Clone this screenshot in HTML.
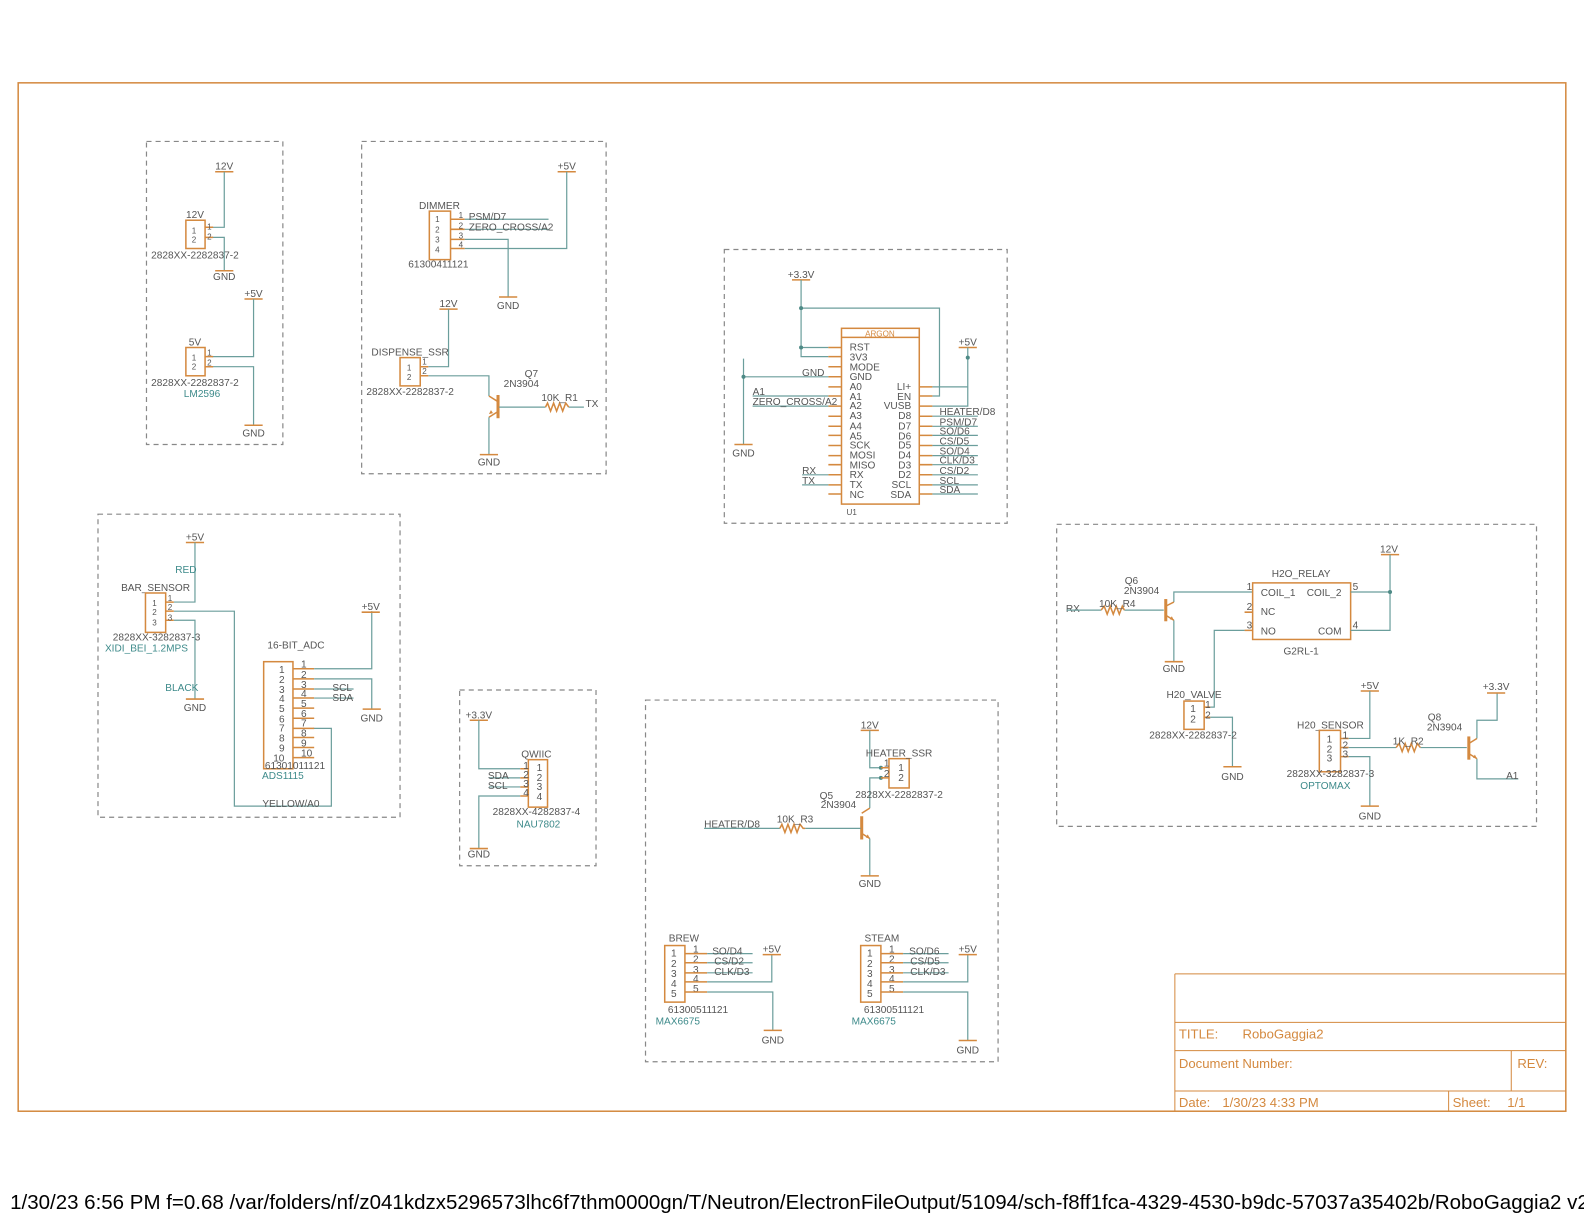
<!DOCTYPE html>
<html><head><meta charset="utf-8"><style>
body{margin:0;background:#fff;}
svg{display:block;font-family:"Liberation Sans",sans-serif;}
.o{stroke:#d4893f;fill:none;stroke-width:1.5}
.w{stroke:#6b9e9c;fill:none;stroke-width:1.2}
.d{stroke:#888;fill:none;stroke-width:1.2;stroke-dasharray:5,4}
text{fill:#555;font-size:10px}
.t{fill:#3d8a8a}
.p{font-size:8px}
.c{text-anchor:middle}
.r{text-anchor:end}
.ot{fill:#d4893f}
.dot{fill:#4e8a86}
</style></head><body>
<svg width="1584" height="1224" viewBox="0 0 1584 1224">
<g transform="scale(1.0102)">
<rect x="18" y="82" width="1532" height="1018" class="o"/>

<!-- Block 1 -->
<rect x="145" y="140" width="135" height="300" class="d"/>
<text x="222" y="168" class="c">12V</text><line x1="213" y1="170" x2="231" y2="170" class="o"/>
<path d="M222 170V225H210M210 235H222V268" class="w"/>
<line x1="213" y1="268" x2="231" y2="268" class="o"/><text x="222" y="277" class="c">GND</text>
<rect x="184" y="218" width="19" height="28" class="o"/>
<text x="193" y="216" class="c">12V</text><text x="192" y="231" class="c p">1</text><text x="192" y="240" class="c p">2</text>
<path d="M203 225H211M203 235H211" class="o"/><text x="205" y="227" class="p">1</text><text x="205" y="237" class="p">2</text>
<text x="193" y="256" class="c">2828XX-2282837-2</text>
<text x="251" y="294" class="c">+5V</text><line x1="242" y1="296" x2="260" y2="296" class="o"/>
<path d="M251 296V353H210M210 363H251V421" class="w"/>
<line x1="242" y1="421" x2="260" y2="421" class="o"/><text x="251" y="432" class="c">GND</text>
<rect x="184" y="344" width="19" height="28" class="o"/>
<text x="193" y="342" class="c">5V</text><text x="192" y="357" class="c p">1</text><text x="192" y="366" class="c p">2</text>
<path d="M203 353H211M203 363H211" class="o"/><text x="205" y="352" class="p">1</text><text x="205" y="362" class="p">2</text>
<text x="193" y="382" class="c">2828XX-2282837-2</text><text x="200" y="393" class="c t">LM2596</text>

<!-- Block 2 -->
<rect x="358" y="140" width="242" height="329" class="d"/>
<text x="561" y="168" class="c">+5V</text><line x1="552" y1="170" x2="570" y2="170" class="o"/>
<path d="M561 170V246H460" class="w"/>
<text x="435" y="207" class="c">DIMMER</text>
<rect x="425" y="209" width="21" height="48" class="o"/>
<text x="433" y="220" class="c p">1</text><text x="433" y="230" class="c p">2</text><text x="433" y="240" class="c p">3</text><text x="433" y="250" class="c p">4</text>
<path d="M446 217H460M446 227H460M446 237H460M446 246H460" class="o"/>
<text x="454" y="216" class="p">1</text><text x="454" y="226" class="p">2</text><text x="454" y="236" class="p">3</text><text x="454" y="245" class="p">4</text>
<path d="M460 217H543M460 227H543M460 237H503V294" class="w"/>
<text x="464" y="218">PSM/D7</text><text x="464" y="228">ZERO_CROSS/A2</text>
<line x1="494" y1="294" x2="512" y2="294" class="o"/><text x="503" y="306" class="c">GND</text>
<text x="434" y="265" class="c">61300411121</text>
<text x="444" y="304" class="c">12V</text><line x1="435" y1="306" x2="453" y2="306" class="o"/>
<path d="M444 306V363H424M424 372H484V392" class="w"/>
<text x="406" y="352" class="c">DISPENSE_SSR</text>
<rect x="396" y="354" width="20" height="28" class="o"/>
<text x="405" y="367" class="c p">1</text><text x="405" y="376" class="c p">2</text>
<path d="M416 363H424M416 372H424" class="o"/><text x="418" y="361" class="p">1</text><text x="418" y="370" class="p">2</text>
<text x="406" y="391" class="c">2828XX-2282837-2</text>
<path d="M484 392L492 397M492 408L484 413" class="o"/><line x1="493" y1="391" x2="493" y2="414" class="o" style="stroke-width:3"/>
<path d="M484 410l4 -1l-2 -3z" fill="#d4893f"/>
<path d="M484 413V450M494 403H540M563 403H578" class="w"/>
<polyline points="540,403 542,399 545,407 548,399 551,407 554,399 557,407 560,399 563,403" class="o"/>
<line x1="475" y1="450" x2="493" y2="450" class="o"/><text x="484" y="461" class="c">GND</text>
<text x="526" y="373" class="c">Q7</text><text x="516" y="383" class="c">2N3904</text>
<text x="554" y="397" class="c">10K_R1</text><text x="586" y="403" class="c">TX</text>

<!-- ARGON -->
<rect x="717" y="247" width="280" height="271" class="d"/>
<text x="793" y="275" class="c">+3.3V</text><line x1="784" y1="277" x2="802" y2="277" class="o"/>
<path d="M793 277V353H820M793 305H930V392H923M793 344H820" class="w"/>
<circle cx="793" cy="305" r="2" class="dot"/><circle cx="793" cy="344" r="2" class="dot"/>
<rect x="833" y="325" width="77" height="174" class="o"/><line x1="833" y1="334" x2="910" y2="334" class="o"/>
<text x="871" y="333" class="c ot p">ARGON</text>
<g class="p">
<text x="841" y="347">RST</text><text x="841" y="357">3V3</text><text x="841" y="367">MODE</text><text x="841" y="376">GND</text><text x="841" y="386">A0</text><text x="841" y="396">A1</text><text x="841" y="405">A2</text><text x="841" y="415">A3</text><text x="841" y="425">A4</text><text x="841" y="435">A5</text><text x="841" y="444">SCK</text><text x="841" y="454">MOSI</text><text x="841" y="464">MISO</text><text x="841" y="473">RX</text><text x="841" y="483">TX</text><text x="841" y="493">NC</text>
<text x="902" y="386" class="r">LI+</text><text x="902" y="396" class="r">EN</text><text x="902" y="405" class="r">VUSB</text><text x="902" y="415" class="r">D8</text><text x="902" y="425" class="r">D7</text><text x="902" y="435" class="r">D6</text><text x="902" y="444" class="r">D5</text><text x="902" y="454" class="r">D4</text><text x="902" y="464" class="r">D3</text><text x="902" y="473" class="r">D2</text><text x="902" y="483" class="r">SCL</text><text x="902" y="493" class="r">SDA</text>
</g>
<path d="M820 344H833M820 353H833M820 363H833M820 373H833M820 383H833M820 392H833M820 402H833M820 412H833M820 422H833M820 431H833M820 441H833M820 451H833M820 460H833M820 470H833M820 480H833M820 489H833M910 383H923M910 392H923M910 402H923M910 412H923M910 422H923M910 431H923M910 441H923M910 451H923M910 460H923M910 470H923M910 480H923M910 489H923" class="o"/>
<text x="958" y="342" class="c">+5V</text><line x1="949" y1="344" x2="967" y2="344" class="o"/>
<path d="M958 344V402H923M958 383H923" class="w"/><circle cx="958" cy="354" r="2" class="dot"/>
<path d="M736 355V440M736 373H820M745 392H820M745 402H820M794 470H820M794 480H820" class="w"/>
<circle cx="736" cy="373" r="2" class="dot"/>
<line x1="727" y1="440" x2="745" y2="440" class="o"/><text x="736" y="452" class="c">GND</text>
<text x="805" y="372" class="c">GND</text><text x="745" y="391">A1</text><text x="745" y="401">ZERO_CROSS/A2</text>
<text x="794" y="469">RX</text><text x="794" y="479">TX</text>
<path d="M923 412H968M923 422H968M923 431H968M923 441H968M923 451H968M923 460H968M923 470H968M923 480H968M923 489H968" class="w"/>
<text x="930" y="411">HEATER/D8</text><text x="930" y="421">PSM/D7</text><text x="930" y="430">SO/D6</text><text x="930" y="440">CS/D5</text><text x="930" y="450">SO/D4</text><text x="930" y="459">CLK/D3</text><text x="930" y="469">CS/D2</text><text x="930" y="479">SCL</text><text x="930" y="488">SDA</text>
<text x="838" y="510" class="p">U1</text>

<!-- BAR block -->
<rect x="97" y="509" width="299" height="300" class="d"/>
<text x="193" y="535" class="c">+5V</text><line x1="184" y1="537" x2="202" y2="537" class="o"/>
<path d="M193 537V596H172M172 605H232V798H328V721H310M172 614H193V692" class="w"/>
<line x1="184" y1="692" x2="202" y2="692" class="o"/><text x="193" y="704" class="c">GND</text>
<text x="184" y="567" class="c t">RED</text><text x="180" y="684" class="c t">BLACK</text>
<text x="154" y="585" class="c">BAR_SENSOR</text>
<rect x="144" y="587" width="20" height="39" class="o"/>
<text x="153" y="600" class="c p">1</text><text x="153" y="609" class="c p">2</text><text x="153" y="619" class="c p">3</text>
<path d="M164 596H172M164 605H172M164 614H172" class="o"/>
<text x="166" y="595" class="p">1</text><text x="166" y="604" class="p">2</text><text x="166" y="614" class="p">3</text>
<text x="155" y="634" class="c">2828XX-3282837-3</text><text x="145" y="645" class="c t">XIDI_BEI_1.2MPS</text>
<text x="293" y="642" class="c">16-BIT_ADC</text>
<rect x="261" y="655" width="29" height="106" class="o"/>
<g class="p">
<text x="279" y="666" class="c">1</text><text x="279" y="676" class="c">2</text><text x="279" y="686" class="c">3</text><text x="279" y="695" class="c">4</text><text x="279" y="705" class="c">5</text><text x="279" y="715" class="c">6</text><text x="279" y="724" class="c">7</text><text x="279" y="734" class="c">8</text><text x="279" y="744" class="c">9</text><text x="276" y="754" class="c">10</text>
<text x="298" y="661">1</text><text x="298" y="671">2</text><text x="298" y="681">3</text><text x="298" y="690">4</text><text x="298" y="700">5</text><text x="298" y="710">6</text><text x="298" y="719">7</text><text x="298" y="729">8</text><text x="298" y="739">9</text><text x="298" y="749">10</text>
</g>
<path d="M290 662H311M290 672H311M290 682H311M290 691H311M290 701H311M290 711H311M290 721H311M290 730H311M290 740H311M290 750H311" class="o"/>
<path d="M311 662H368V605M311 672H368V702M311 682H350M311 691H350" class="w"/>
<text x="367" y="604" class="c">+5V</text><line x1="358" y1="606" x2="376" y2="606" class="o"/>
<line x1="359" y1="702" x2="377" y2="702" class="o"/><text x="368" y="714" class="c">GND</text>
<text x="329" y="684">SCL</text><text x="329" y="694">SDA</text>
<text x="292" y="761" class="c">61301011121</text><text x="280" y="771" class="c t">ADS1115</text>
<text x="288" y="799" class="c">YELLOW/A0</text>

<!-- QWIIC -->
<rect x="455" y="683" width="135" height="174" class="d"/>
<text x="474" y="711" class="c">+3.3V</text><line x1="465" y1="713" x2="483" y2="713" class="o"/>
<path d="M474 713V761H515M484 770H515M484 779H515M515 788H474V840" class="w"/>
<line x1="465" y1="840" x2="483" y2="840" class="o"/><text x="474" y="849" class="c">GND</text>
<text x="483" y="771">SDA</text><text x="483" y="781">SCL</text>
<text x="531" y="750" class="c">QWIIC</text>
<rect x="523" y="752" width="19" height="47" class="o"/>
<path d="M515 761H523M515 770H523M515 779H523M515 788H523" class="o"/>
<g class="p"><text x="518" y="761">1</text><text x="518" y="770">2</text><text x="518" y="779">3</text><text x="518" y="788">4</text>
<text x="534" y="763" class="c">1</text><text x="534" y="773" class="c">2</text><text x="534" y="782" class="c">3</text><text x="534" y="792" class="c">4</text></g>
<text x="531" y="807" class="c">2828XX-4282837-4</text><text x="533" y="819" class="c t">NAU7802</text>

<!-- HEATER block -->
<rect x="639" y="693" width="349" height="358" class="d"/>
<text x="861" y="721" class="c">12V</text><line x1="852" y1="723" x2="870" y2="723" class="o"/>
<path d="M861 723V760H875M875 770H861V800" class="w"/>
<circle cx="872" cy="760" r="2" class="dot"/><circle cx="872" cy="770" r="2" class="dot"/>
<rect x="880" y="751" width="20" height="29" class="o"/>
<path d="M872 760H880M872 770H880" class="o"/>
<g class="p"><text x="875" y="759">1</text><text x="875" y="769">2</text><text x="892" y="763" class="c">1</text><text x="892" y="773" class="c">2</text></g>
<text x="890" y="749" class="c">HEATER_SSR</text><text x="890" y="790" class="c">2828XX-2282837-2</text>
<text x="818" y="791" class="c">Q5</text><text x="830" y="800" class="c">2N3904</text>
<path d="M861 800L853 805M853 825L861 830" class="o"/><line x1="853" y1="808" x2="853" y2="831" class="o" style="stroke-width:3"/>
<path d="M861 830l-4 -1l2 -3z" fill="#d4893f"/>
<path d="M861 830V867M697 820H772M797 820H852" class="w"/>
<polyline points="772,820 774,816 777,824 780,816 783,824 786,816 789,824 792,816 795,820 797,820" class="o"/>
<line x1="852" y1="867" x2="870" y2="867" class="o"/><text x="861" y="878" class="c">GND</text>
<text x="697" y="819">HEATER/D8</text><text x="787" y="814" class="c">10K_R3</text>
<!-- BREW -->
<text x="677" y="932" class="c">BREW</text>
<rect x="658" y="936" width="20" height="56" class="o"/>
<g class="p"><text x="667" y="947" class="c">1</text><text x="667" y="957" class="c">2</text><text x="667" y="967" class="c">3</text><text x="667" y="977" class="c">4</text><text x="667" y="987" class="c">5</text>
<text x="686" y="943">1</text><text x="686" y="953">2</text><text x="686" y="963">3</text><text x="686" y="972">4</text><text x="686" y="982">5</text></g>
<path d="M678 944H700M678 953H700M678 963H700M678 972H700M678 982H700" class="o"/>
<path d="M700 944H745M700 953H745M700 963H745M700 972H764V945M700 982H765V1020" class="w"/>
<text x="705" y="945">SO/D4</text><text x="707" y="955">CS/D2</text><text x="707" y="965">CLK/D3</text>
<text x="764" y="943" class="c">+5V</text><line x1="755" y1="945" x2="773" y2="945" class="o"/>
<line x1="756" y1="1020" x2="774" y2="1020" class="o"/><text x="765" y="1033" class="c">GND</text>
<text x="691" y="1003" class="c">61300511121</text><text x="649" y="1014" class="t">MAX6675</text>
<!-- STEAM -->
<text x="873" y="932" class="c">STEAM</text>
<rect x="852" y="936" width="20" height="56" class="o"/>
<g class="p"><text x="861" y="947" class="c">1</text><text x="861" y="957" class="c">2</text><text x="861" y="967" class="c">3</text><text x="861" y="977" class="c">4</text><text x="861" y="987" class="c">5</text>
<text x="880" y="943">1</text><text x="880" y="953">2</text><text x="880" y="963">3</text><text x="880" y="972">4</text><text x="880" y="982">5</text></g>
<path d="M872 944H894M872 953H894M872 963H894M872 972H894M872 982H894" class="o"/>
<path d="M894 944H939M894 953H939M894 963H939M894 972H958V945M894 982H958V1030" class="w"/>
<text x="900" y="945">SO/D6</text><text x="901" y="955">CS/D5</text><text x="901" y="965">CLK/D3</text>
<text x="958" y="943" class="c">+5V</text><line x1="949" y1="945" x2="967" y2="945" class="o"/>
<line x1="949" y1="1030" x2="967" y2="1030" class="o"/><text x="958" y="1043" class="c">GND</text>
<text x="885" y="1003" class="c">61300511121</text><text x="843" y="1014" class="t">MAX6675</text>

<!-- RELAY block -->
<rect x="1046" y="519" width="475" height="299" class="d"/>
<text x="1062" y="606" class="c">RX</text>
<path d="M1056 604H1090M1113 604H1152M1162 596V586H1240M1162 614V655" class="w"/>
<polyline points="1090,604 1093,600 1096,608 1099,600 1102,608 1105,600 1108,608 1111,600 1113,604" class="o"/>
<path d="M1162 596L1154 600M1154 609L1162 614" class="o"/><line x1="1154" y1="593" x2="1154" y2="615" class="o" style="stroke-width:3"/>
<path d="M1162 614l-4 -1l2 -3z" fill="#d4893f"/>
<line x1="1153" y1="655" x2="1171" y2="655" class="o"/><text x="1162" y="665" class="c">GND</text>
<text x="1106" y="601" class="c">10K_R4</text><text x="1120" y="578" class="c">Q6</text><text x="1130" y="588" class="c">2N3904</text>
<text x="1288" y="571" class="c">H2O_RELAY</text>
<rect x="1240" y="577" width="97" height="56" class="o"/>
<g class="p"><text x="1248" y="590">COIL_1</text><text x="1248" y="609">NC</text><text x="1248" y="628">NO</text><text x="1328" y="590" class="r">COIL_2</text><text x="1328" y="628" class="r">COM</text>
<text x="1234" y="584">1</text><text x="1234" y="604">2</text><text x="1234" y="622">3</text><text x="1339" y="584">5</text><text x="1339" y="622">4</text></g>
<path d="M1232 606H1240M1232 624H1240" class="o"/>
<text x="1288" y="648" class="c">G2RL-1</text>
<text x="1375" y="547" class="c">12V</text><line x1="1367" y1="549" x2="1385" y2="549" class="o"/>
<path d="M1376 549V624H1337M1376 586H1337M1232 624H1202V700H1198M1198 710H1220V759" class="w"/>
<circle cx="1376" cy="586" r="2" class="dot"/>
<text x="1182" y="691" class="c">H20_VALVE</text>
<rect x="1172" y="694" width="20" height="28" class="o"/>
<path d="M1192 700H1198M1192 710H1198" class="o"/>
<g class="p"><text x="1181" y="705" class="c">1</text><text x="1181" y="715" class="c">2</text><text x="1193" y="701">1</text><text x="1193" y="711">2</text></g>
<text x="1181" y="731" class="c">2828XX-2282837-2</text>
<line x1="1211" y1="759" x2="1229" y2="759" class="o"/><text x="1220" y="772" class="c">GND</text>
<text x="1317" y="721" class="c">H20_SENSOR</text>
<rect x="1306" y="723" width="21" height="41" class="o"/>
<path d="M1327 731H1335M1327 740H1335M1327 749H1335" class="o"/>
<g class="p"><text x="1316" y="735" class="c">1</text><text x="1316" y="745" class="c">2</text><text x="1316" y="754" class="c">3</text><text x="1329" y="731">1</text><text x="1329" y="741">2</text><text x="1329" y="750">3</text></g>
<text x="1356" y="682" class="c">+5V</text><line x1="1347" y1="684" x2="1365" y2="684" class="o"/>
<path d="M1356 684V731H1335M1335 740H1382M1406 740H1452M1335 749H1356V798M1462 731V713H1482V686M1462 751V771H1503" class="w"/>
<polyline points="1382,740 1385,736 1388,744 1391,736 1394,744 1397,736 1400,744 1403,736 1406,740" class="o"/>
<line x1="1347" y1="798" x2="1365" y2="798" class="o"/><text x="1356" y="811" class="c">GND</text>
<text x="1394" y="737" class="c">1K_R2</text>
<path d="M1462 731L1454 736M1454 746L1462 751" class="o"/><line x1="1454" y1="729" x2="1454" y2="752" class="o" style="stroke-width:3"/>
<path d="M1462 751l-4 -1l2 -3z" fill="#d4893f"/>
<text x="1481" y="683" class="c">+3.3V</text><line x1="1472" y1="686" x2="1490" y2="686" class="o"/>
<text x="1420" y="713" class="c">Q8</text><text x="1430" y="723" class="c">2N3904</text><text x="1497" y="771" class="c">A1</text>
<text x="1317" y="769" class="c">2828XX-3282837-3</text><text x="1312" y="781" class="c t">OPTOMAX</text>

<!-- Title block -->
<g class="o" style="stroke-width:1">
<path d="M1163 964H1550M1163 964V1100M1163 1012H1550M1163 1040H1550M1163 1080H1550M1496 1040V1080M1434 1080V1100"/>
</g>
<text x="1167" y="1028" class="ot" style="font-size:13px">TITLE:</text><text x="1230" y="1028" class="ot" style="font-size:13px">RoboGaggia2</text>
<text x="1167" y="1057" class="ot" style="font-size:13px">Document Number:</text><text x="1502" y="1057" class="ot" style="font-size:13px">REV:</text>
<text x="1167" y="1096" class="ot" style="font-size:13px">Date:</text><text x="1210" y="1096" class="ot" style="font-size:13px">1/30/23 4:33 PM</text>
<text x="1438" y="1096" class="ot" style="font-size:13px">Sheet:</text><text x="1492" y="1096" class="ot" style="font-size:13px">1/1</text>

<text x="10" y="1197" style="fill:#000;font-size:20.3px">1/30/23 6:56 PM  f=0.68  /var/folders/nf/z041kdzx5296573lhc6f7thm0000gn/T/Neutron/ElectronFileOutput/51094/sch-f8ff1fca-4329-4530-b9dc-57037a35402b/RoboGaggia2 v27</text>
</g>
</svg>
</body></html>
